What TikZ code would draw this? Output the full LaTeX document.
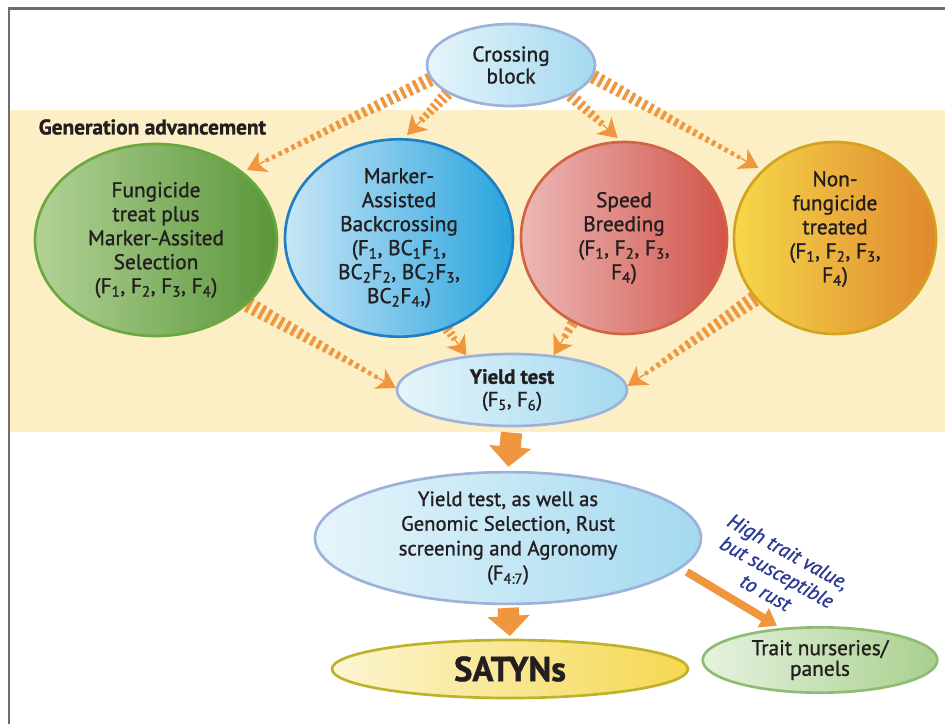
\documentclass[tikz,border=0pt]{standalone}
\usepackage{fontspec}
\setmainfont{PT Sans}[FakeBold=1.2]
\usetikzlibrary{shapes.geometric,arrows.meta,calc}
\definecolor{arrc}{HTML}{F0963F}
\definecolor{bandc}{HTML}{FCEFC5}
\definecolor{ink}{HTML}{231F20}
\definecolor{notec}{HTML}{2E3A97}
\pgfdeclarelayer{back}
\pgfdeclarelayer{mid}
\pgfsetlayers{back,mid,main}
\newcommand{\hatch}[6]{%
  \path ($(#2)!#6!(#1)$) coordinate (hT) (#1) coordinate (hA);
  \path ($(hT)!13pt!(hA)$) coordinate (hB);
  \foreach \i in {1,...,#3}{%
    \pgfmathsetmacro{\ta}{(\i-1)/#3}%
    \pgfmathsetmacro{\tb}{(\i-0.5)/#3}%
    \pgfmathsetmacro{\hw}{#4+(#5-#4)*(\i-1)/max(#3-1,1)}%
    \draw[arrc,line width=\hw pt] ($(hA)!\ta!(hB)$) -- ($(hA)!\tb!(hB)$);
  }%
  \draw[arrc,line width=1pt,-{Stealth[length=14pt,width=17pt,inset=4pt]}] ($(hT)!15pt!(hA)$) -- (hT);
}
\begin{document}
\begin{tikzpicture}[x=.75pt,y=-.75pt,
    bub/.style={ellipse,draw,line width=2pt,inner sep=0pt,align=center,text=ink,
      font=\fontsize{16}{18}\selectfont},
    sky/.style={bub,draw={rgb,255:red,157;green,177;blue,217},left color={rgb,255:red,230;green,245;blue,251},right color={rgb,255:red,163;green,217;blue,239}},
    fat/.style={draw=arrc,line width=16pt,-{Triangle[length=15pt,width=31pt]}},
    slim/.style={draw=arrc,line width=6pt,-{Triangle[length=12pt,width=16pt]}}]
\useasboundingbox (0,0) rectangle (945,724);
\begin{pgfonlayer}{back}
\fill[white] (0,0) rectangle (945,724);
\fill[bandc] (10,110) rectangle (945,432);
\draw[line width=1.6pt,draw={rgb,255:red,110;green,110;blue,113}] (9,724) -- (9,8.5) -- (945,8.5);
\end{pgfonlayer}
\node[sky,minimum width=126pt,minimum height=61.5pt,font=\fontsize{16}{16.5}\selectfont] (cross) at (511,65) {Crossing\\block};
\node[anchor=west,text=ink,font=\fontsize{16}{18}\selectfont\bfseries] (gen) at (34,127) {Generation advancement};
\node[bub,minimum width=181.5pt,minimum height=144pt,draw={rgb,255:red,107;green,168;blue,63},
  left color={rgb,255:red,178;green,210;blue,150},middle color={rgb,255:red,96;green,156;blue,61},right color={rgb,255:red,90;green,150;blue,58}]
  (fung) at (156,240) {Fungicide\\treat plus\\Marker-Assited\\Selection\\(F\textsubscript{1}, F\textsubscript{2}, F\textsubscript{3}, F\textsubscript{4})};
\node[bub,minimum width=171pt,minimum height=144pt,draw={rgb,255:red,30;green,127;blue,196},
  left color={rgb,255:red,200;green,230;blue,247},middle color={rgb,255:red,62;green,173;blue,226},right color={rgb,255:red,39;green,163;blue,221}]
  (mab) at (399,238) {Marker-\\Assisted\\Backcrossing\\(F\textsubscript{1}, BC\textsubscript{1}F\textsubscript{1},\\BC\textsubscript{2}F\textsubscript{2}, BC\textsubscript{2}F\textsubscript{3},\\BC\textsubscript{2}F\textsubscript{4},)};
\node[bub,minimum width=154.5pt,minimum height=144pt,draw={rgb,255:red,208;green,100;blue,67},
  left color={rgb,255:red,236;green,184;blue,182},middle color={rgb,255:red,219;green,115;blue,102},right color={rgb,255:red,210;green,84;blue,74}]
  (speed) at (624,238) {Speed\\Breeding\\(F\textsubscript{1}, F\textsubscript{2}, F\textsubscript{3},\\F\textsubscript{4})};
\node[bub,minimum width=151.5pt,minimum height=144pt,text depth=17pt,draw={rgb,255:red,211;green,162;blue,30},
  left color={rgb,255:red,246;green,216;blue,74},middle color={rgb,255:red,237;green,177;blue,62},right color={rgb,255:red,224;green,136;blue,47}]
  (nonf) at (835,238) {Non-\\fungicide\\treated\\(F\textsubscript{1}, F\textsubscript{2}, F\textsubscript{3},\\F\textsubscript{4})};
\node[sky,minimum width=172.5pt,minimum height=54pt,font=\fontsize{15.5}{17}\selectfont] (yield) at (512,390) {\textbf{Yield test}\\(F\textsubscript{5}, F\textsubscript{6})};
\node[sky,minimum width=289.5pt,minimum height=85.5pt,font=\fontsize{15.5}{18.5}\selectfont] (yield2) at (508,538) {Yield test, as well as\\Genomic Selection, Rust\\screening and Agronomy\\(F\textsubscript{4:7})};
\node[bub,minimum width=267pt,minimum height=43.5pt,draw={rgb,255:red,190;green,178;blue,43},
  left color={rgb,255:red,251;green,245;blue,210},right color={rgb,255:red,246;green,216;blue,80},font=\fontsize{26}{30}\selectfont\bfseries]
  (satyn) at (510,669) {SATYNs};
\node[bub,minimum width=176pt,minimum height=49pt,draw={rgb,255:red,142;green,188;blue,114},
  left color={rgb,255:red,230;green,242;blue,223},right color={rgb,255:red,169;green,208;blue,143},font=\fontsize{16}{15.5}\selectfont]
  (trait) at (820,660) {Trait nurseries/\\panels};
\node[rotate=-29,align=center,text=notec,font=\fontsize{15.5}{17.5}\selectfont\itshape] (note) at (777,572) {High trait value,\\but susceptible\\to rust};
\begin{pgfonlayer}{mid}
\hatch{cross.190}{fung.38}{26}{10.5}{3}{3pt}
\hatch{cross.204}{mab.87}{7}{9.5}{5}{3pt}
\hatch{cross.333}{speed.92}{7}{9.5}{5}{3pt}
\hatch{cross.352}{nonf.137}{24}{10.5}{3}{3pt}
\hatch{fung.325}{yield.179}{21}{12}{3}{0pt}
\hatch{mab.298}{yield.143}{3}{8}{5}{0pt}
\hatch{speed.239}{yield.40}{3}{8}{5}{0pt}
\hatch{nonf.217}{yield.2}{19}{12}{3}{0pt}
\draw[fat,shorten <=4pt,shorten >=3pt] (yield.south) -- (yield2.north);
\draw[fat,shorten <=2pt,shorten >=2pt] (yield2.south) -- (satyn.north);
\draw[slim,shorten <=5pt,shorten >=3pt] (yield2.-10) -- (trait.141);
\end{pgfonlayer}
\end{tikzpicture}
\end{document}
